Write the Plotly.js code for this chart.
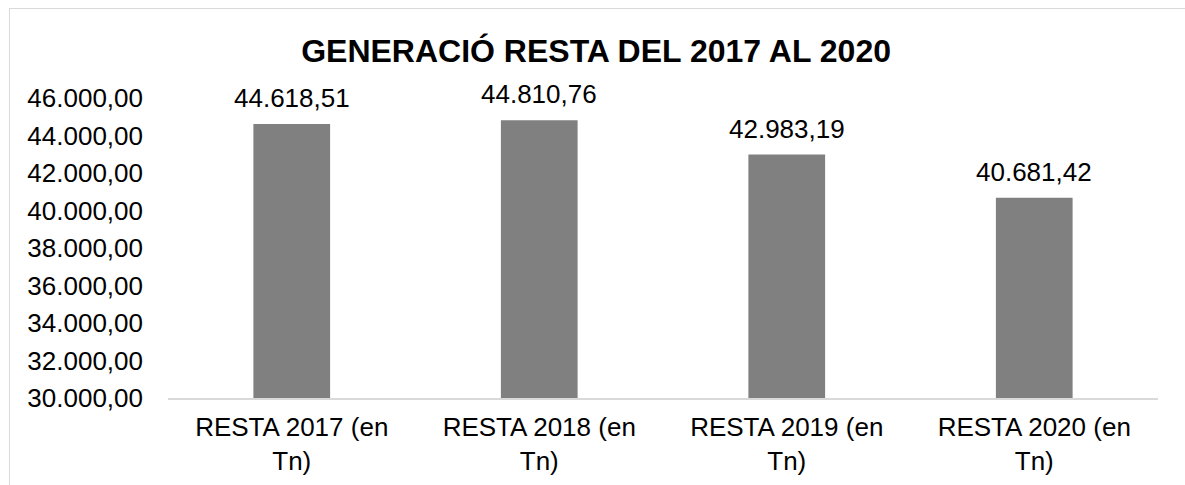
<!DOCTYPE html>
<html><head><meta charset="utf-8">
<script src="https://cdn.plot.ly/plotly-3.0.1.min.js"></script>
<style>
html,body{margin:0;padding:0;background:#fff;}
#frame{position:absolute;left:9px;top:8px;width:1176px;height:477px;border-left:1px solid #d9d9d9;border-top:1px solid #d9d9d9;}
#chart{position:absolute;left:0;top:0;width:1185px;height:485px;}
</style></head>
<body>
<div id="frame"></div>
<div id="chart"></div>
<script>
const categories = ["RESTA 2017 (en<br>Tn)", "RESTA 2018 (en<br>Tn)", "RESTA 2019 (en<br>Tn)", "RESTA 2020 (en<br>Tn)"];
const values = [44618.51, 44810.76, 42983.19, 40681.42];
const labels = ["44.618,51", "44.810,76", "42.983,19", "40.681,42"];
const titleText = "GENERACIÓ RESTA DEL 2017 AL 2020";
const yTicks = [30000, 32000, 34000, 36000, 38000, 40000, 42000, 44000, 46000];

const font = {family: "Liberation Sans, Arial, sans-serif", size: 26, color: "#000"};

const trace = {
  type: "bar",
  x: categories,
  y: values,
  marker: {color: "#808080"},
  hoverinfo: "skip"
};

const annotations = categories.map((c, i) => ({
  x: c, y: values[i], xref: "x", yref: "y",
  text: labels[i], showarrow: false, yanchor: "bottom", yshift: 9,
  font: font
}));

const layout = {
  width: 1185, height: 485,
  margin: {l: 168, r: 27, t: 98, b: 87, pad: 0},
  paper_bgcolor: "rgba(0,0,0,0)",
  plot_bgcolor: "rgba(0,0,0,0)",
  separators: ",.",
  font: font,
  bargap: 0.69,
  showlegend: false,
  title: {
    text: "<b>" + titleText + "</b>",
    font: {family: "Liberation Sans, Arial, sans-serif", size: 32, color: "#000"},
    x: 0.503, xref: "container", xanchor: "center",
    y: 1 - 51/485, yref: "container", yanchor: "middle"
  },
  xaxis: {
    type: "category",
    showline: true, linecolor: "#d9d9d9", linewidth: 1.5,
    showgrid: false, zeroline: false,
    ticks: "", tickfont: font,
    ticklabelstandoff: 5
  },
  yaxis: {
    range: [30000, 46000],
    tickvals: yTicks,
    tickformat: ",.2f",
    showline: false, showgrid: false, zeroline: false,
    ticks: "", tickfont: font,
    ticklabelstandoff: 24
  },
  annotations: annotations
};

Plotly.newPlot("chart", [trace], layout, {displayModeBar: false, staticPlot: true});
</script>
</body></html>
